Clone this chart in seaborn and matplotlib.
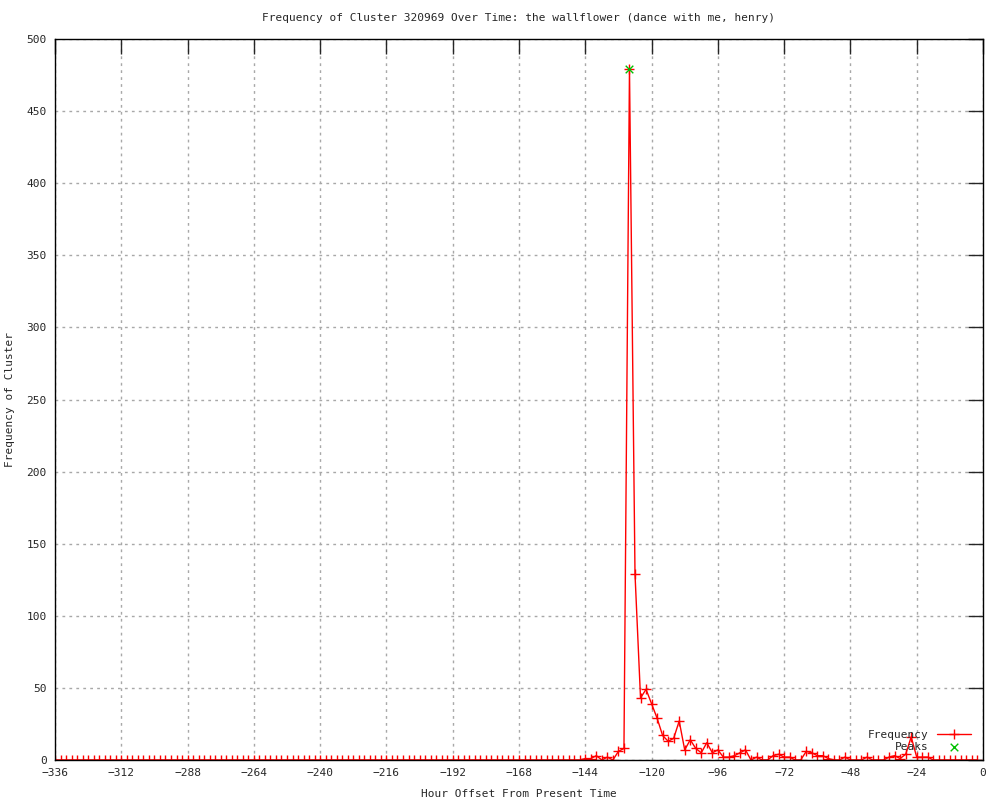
import numpy as np
import pandas as pd
import matplotlib
matplotlib.use("Agg")
import matplotlib.pyplot as plt
import seaborn as sns

# hour offsets every 2 hours, -336 .. -2
hours = list(range(-336, 0, 2))

# non-zero part of the series (-144 .. -18)
active_start = -144
active_values = [1, 1, 3, 0, 2, 0, 6, 8, 479, 129, 43, 49, 39, 29, 17, 13,
                 15, 27, 7, 14, 8, 5, 12, 5, 7, 2, 2, 3, 5, 7, 0, 2,
                 0, 0, 3, 4, 2, 2, 0, 0, 6, 5, 3, 3, 1, 0, 0, 2,
                 0, 0, 0, 2, 0, 0, 0, 2, 3, 1, 4, 16, 2, 2, 2, 0]

freq = [0] * len(hours)
for i, v in enumerate(active_values):
    freq[hours.index(active_start + 2 * i)] = v

peak_hours = [-128]
peak_values = [479]

df = pd.DataFrame({"hour": hours, "freq": freq})
peaks = pd.DataFrame({"hour": peak_hours, "freq": peak_values})

sns.set_style("white")
plt.rcParams["font.family"] = ["DejaVu Sans Mono", "DejaVu Sans"]
plt.rcParams["font.size"] = 8

fig = plt.figure(figsize=(10, 8), dpi=100)
ax = fig.add_axes([0.055, 0.05, 0.928, 0.90125])

sns.lineplot(data=df, x="hour", y="freq", ax=ax, color="red", linewidth=1,
             marker="+", markersize=7, markeredgewidth=1, markeredgecolor="red",
             label="Frequency")
sns.scatterplot(data=peaks, x="hour", y="freq", ax=ax, color="#00c000",
                marker="x", s=30, linewidth=1, label="Peaks", zorder=5)

ax.set_xlim(-336, 0)
ax.set_ylim(0, 500)
ax.set_xticks(range(-336, 1, 24))
ax.set_yticks(range(0, 501, 50))
ax.grid(True, color="#a8a8a8", linestyle=(0, (2, 3)), linewidth=1)
ax.tick_params(direction="in", length=11, width=1, top=True, right=True,
               labelsize=8, pad=6)
for s in ax.spines.values():
    s.set_color("black")
    s.set_linewidth(1)

ax.set_title("Frequency of Cluster 320969 Over Time: the wallflower (dance with me, henry)",
             fontsize=8, pad=13)
ax.set_xlabel("Hour Offset From Present Time", fontsize=8, labelpad=8)
ax.set_ylabel("Frequency of Cluster", fontsize=8, labelpad=8)

leg = ax.legend(loc="lower right", frameon=False, fontsize=8,
                markerfirst=False, handlelength=3, borderaxespad=0.3,
                labelspacing=0.2, bbox_to_anchor=(0.995, 0.0))

fig.savefig("out.png", dpi=100)
